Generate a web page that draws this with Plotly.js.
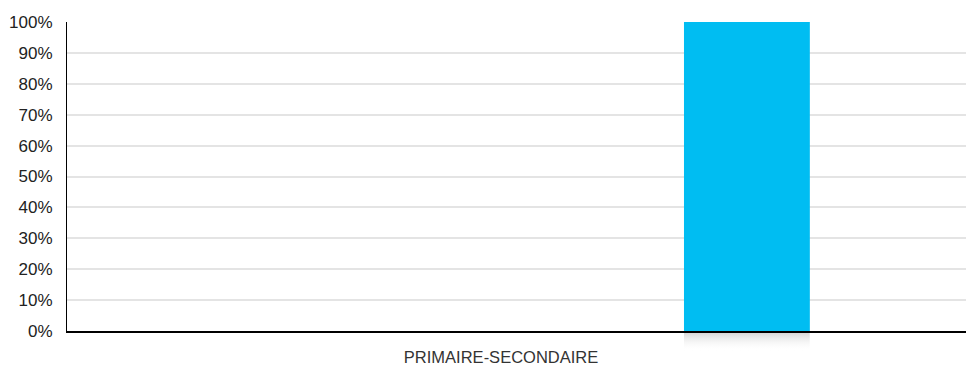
<!DOCTYPE html>
<html>
<head>
<meta charset="utf-8">
<script src="https://cdn.plot.ly/plotly-3.0.1.min.js"></script>
<style>
  html, body { margin: 0; padding: 0; background: #fff; }
  #chart { width: 966px; height: 370px; }
</style>
</head>
<body>
<div id="chart"></div>
<script>
// Share of pupils by level, single category
const categories = ['PRIMAIRE-SECONDAIRE'];
const shareValues = [100];
const tickValues = [0, 10, 20, 30, 40, 50, 60, 70, 80, 90, 100];
const tickLabels = ['0%', '10%', '20%', '30%', '40%', '50%', '60%', '70%', '80%', '90%', '100%'];

// Bar placement within the category slot (style only)
const barWidth = 0.14;
const barOffset = 0.2035;
const xRange = [-0.4828, 0.5172];

const fontFamily = '"Liberation Sans", Arial, Helvetica, sans-serif';

// Soft shadow strip under the bar, drawn as an SVG gradient image
const shadowSvg = '<svg xmlns="http://www.w3.org/2000/svg" width="10" height="100" preserveAspectRatio="none">' +
  '<defs><linearGradient id="g" x1="0" y1="0" x2="0" y2="1">' +
  '<stop offset="0" stop-color="#d8d8d8" stop-opacity="1"/>' +
  '<stop offset="1" stop-color="#ffffff" stop-opacity="0"/>' +
  '</linearGradient></defs><rect width="10" height="100" fill="url(#g)"/></svg>';
const shadowSrc = 'data:image/svg+xml;base64,' + btoa(shadowSvg);

const plotTop = 22, plotBottom = 39, plotHeight = 370 - plotTop - plotBottom;
const toPaperX = v => (v - xRange[0]) / (xRange[1] - xRange[0]);

const trace = {
  type: 'bar',
  x: categories,
  y: shareValues,
  width: barWidth,
  offset: barOffset,
  marker: { color: '#00bdf2', line: { width: 0 } },
  hoverinfo: 'skip'
};

const layout = {
  width: 966,
  height: 370,
  margin: { l: 67, r: 0, t: plotTop, b: plotBottom, pad: 0 },
  paper_bgcolor: '#ffffff',
  plot_bgcolor: '#ffffff',
  showlegend: false,
  font: { family: fontFamily, size: 17, color: '#333' },
  xaxis: {
    type: 'category',
    range: xRange,
    showgrid: false,
    showline: true,
    linecolor: '#000',
    linewidth: 2,
    ticks: '',
    tickfont: { family: fontFamily, size: 16.5, color: '#333' },
    ticklabelstandoff: 10,
    zeroline: false,
    fixedrange: true
  },
  yaxis: {
    range: [0, 100],
    tickmode: 'array',
    tickvals: tickValues,
    ticktext: tickLabels,
    showgrid: true,
    gridcolor: '#e4e4e4',
    gridwidth: 2,
    showline: true,
    linecolor: '#000',
    linewidth: 1,
    zeroline: false,
    ticks: '',
    tickfont: { family: fontFamily, size: 17, color: '#222' },
    ticklabelstandoff: 10,
    fixedrange: true
  },
  images: [{
    source: shadowSrc,
    xref: 'paper',
    yref: 'paper',
    x: toPaperX(barOffset),
    y: -2 / plotHeight,
    sizex: toPaperX(barOffset + barWidth) - toPaperX(barOffset),
    sizey: 18 / plotHeight,
    xanchor: 'left',
    yanchor: 'top',
    sizing: 'stretch',
    layer: 'below'
  }]
};

Plotly.newPlot('chart', [trace], layout, { displayModeBar: false, staticPlot: true });
</script>
</body>
</html>
